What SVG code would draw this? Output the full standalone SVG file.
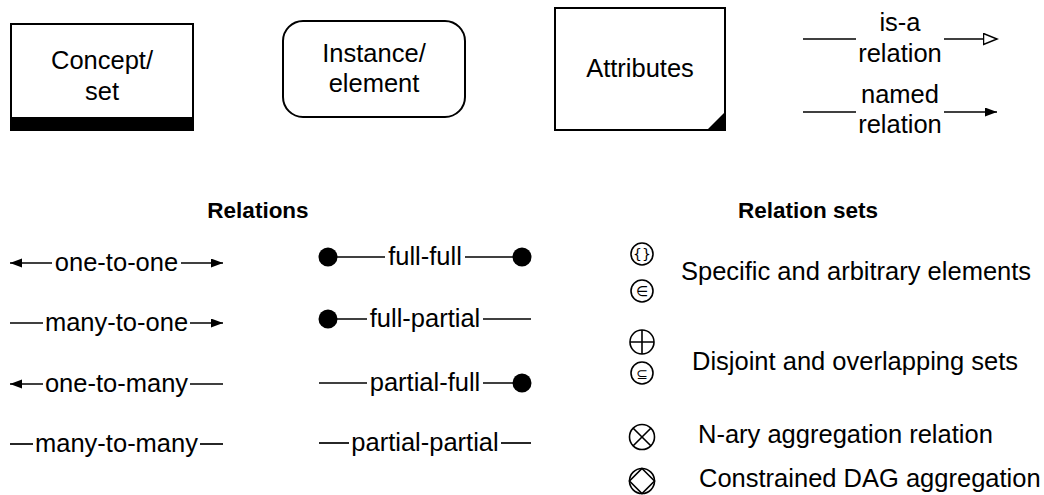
<svg xmlns="http://www.w3.org/2000/svg" width="1044" height="495" viewBox="0 0 1044 495">
  <style>
    text { font-family: "Liberation Sans", Arial, sans-serif; font-size: 25.5px; fill: #000; }
    .c { text-anchor: middle; }
    .h { font-weight: bold; font-size: 22.5px; text-anchor: middle; }
    .sym { font-family: "DejaVu Sans", "Liberation Sans", sans-serif; font-size: 14px; text-anchor: middle; }
    .box { fill: #fff; stroke: #000; stroke-width: 2; }
    .ln { stroke: #000; stroke-width: 1.7; fill: none; }
    .ring { fill: #fff; stroke: #000; stroke-width: 1.6; }
    .ringln { stroke: #000; stroke-width: 1.6; fill: none; }
    .arr { marker-end: url(#arrow); }
  </style>
  <defs>
    <marker id="arrow" markerUnits="userSpaceOnUse" markerWidth="13" markerHeight="10" refX="12" refY="4.5" orient="auto">
      <path d="M0,0 L12,4.5 L0,9 z" fill="#000"/>
    </marker>
    <marker id="isa" markerUnits="userSpaceOnUse" markerWidth="16" markerHeight="14" refX="14.5" refY="6.5" orient="auto">
      <path d="M1,1 L14.5,6.5 L1,12 z" fill="#fff" stroke="#000" stroke-width="1.5"/>
    </marker>
  </defs>

  <!-- legend node shapes -->
  <g id="concept-set">
    <rect class="box" x="11" y="24" width="182" height="106"/>
    <rect x="11" y="117" width="182" height="13" fill="#000"/>
    <text class="c" x="102" y="69">Concept/</text>
    <text class="c" x="102" y="100">set</text>
  </g>

  <g id="instance-element">
    <rect class="box" x="283" y="21" width="182" height="96" rx="20" ry="20"/>
    <text class="c" x="374" y="62">Instance/</text>
    <text class="c" x="374" y="92">element</text>
  </g>

  <g id="attributes">
    <rect class="box" x="555" y="8" width="170" height="122"/>
    <polygon points="707,130 725,112 725,130" fill="#000"/>
    <text class="c" x="640" y="77">Attributes</text>
  </g>

  <g id="isa-relation">
    <text class="c" x="900" y="31">is-a</text>
    <text class="c" x="900" y="62">relation</text>
  </g>

  <g id="named-relation">
    <text class="c" x="900" y="103">named</text>
    <text class="c" x="900" y="133">relation</text>
  </g>

  <!-- section headings -->
  <g id="relations-heading">
    <text class="h" x="258" y="218">Relations</text>
  </g>
  <g id="relation-sets-heading">
    <text class="h" x="808" y="218">Relation sets</text>
  </g>

  <!-- cardinality labels -->
  <g id="one-to-one"><text class="c" x="116.5" y="271">one-to-one</text></g>
  <g id="many-to-one"><text class="c" x="116.5" y="331">many-to-one</text></g>
  <g id="one-to-many"><text class="c" x="116.5" y="392">one-to-many</text></g>
  <g id="many-to-many"><text class="c" x="116.5" y="452">many-to-many</text></g>

  <!-- participation labels -->
  <g id="full-full"><text class="c" x="425" y="265">full-full</text></g>
  <g id="full-partial"><text class="c" x="425" y="327">full-partial</text></g>
  <g id="partial-full"><text class="c" x="425" y="391">partial-full</text></g>
  <g id="partial-partial"><text class="c" x="425" y="451">partial-partial</text></g>

  <!-- relation set symbols -->
  <g id="specific-elements">
    <circle class="ring" cx="642" cy="254" r="11"/>
    <text class="sym" x="642" y="259">{}</text>
  </g>
  <g id="arbitrary-elements">
    <circle class="ring" cx="642" cy="291" r="11"/>
    <text class="sym" x="642" y="296">∈</text>
  </g>
  <g id="specific-arbitrary-label">
    <text x="681" y="280">Specific and arbitrary elements</text>
  </g>

  <g id="disjoint-sets">
    <circle class="ring" cx="642" cy="342" r="12"/>
    <path class="ringln" d="M630,342 H654 M642,330 V354"/>
  </g>
  <g id="overlapping-sets">
    <circle class="ring" cx="642" cy="373" r="11"/>
    <text class="sym" x="642" y="378.5">⊆</text>
  </g>
  <g id="disjoint-overlapping-label">
    <text x="692" y="370">Disjoint and overlapping sets</text>
  </g>

  <g id="nary-aggregation">
    <circle class="ring" cx="642" cy="437" r="12.5"/>
    <path class="ringln" d="M633.2,428.2 L650.8,445.8 M650.8,428.2 L633.2,445.8"/>
    <text x="698" y="443">N-ary aggregation relation</text>
  </g>

  <g id="dag-aggregation">
    <circle class="ring" cx="642" cy="481" r="12.5"/>
    <polygon class="ringln" points="642,468.5 654.5,481 642,493.5 629.5,481"/>
    <text x="699" y="487">Constrained DAG aggregation</text>
  </g>

  <!-- connectors -->
  <g id="connectors">
    <!-- is-a / named -->
    <line class="ln" x1="803" y1="39" x2="856" y2="39"/>
    <line class="ln" x1="944" y1="39" x2="997" y2="39" marker-end="url(#isa)"/>
    <line class="ln" x1="803" y1="112" x2="856" y2="112"/>
    <line class="ln arr" x1="944" y1="112" x2="997" y2="112"/>

    <!-- cardinalities -->
    <line class="ln arr" x1="52" y1="263" x2="10" y2="263"/>
    <line class="ln arr" x1="181" y1="263" x2="223" y2="263"/>
    <line class="ln" x1="10" y1="323" x2="43" y2="323"/>
    <line class="ln arr" x1="190" y1="323" x2="223" y2="323"/>
    <line class="ln arr" x1="43" y1="384" x2="10" y2="384"/>
    <line class="ln" x1="190" y1="384" x2="223" y2="384"/>
    <line class="ln" x1="10" y1="444" x2="33" y2="444"/>
    <line class="ln" x1="200" y1="444" x2="223" y2="444"/>

    <!-- participation -->
    <line class="ln" x1="328" y1="257" x2="385" y2="257"/>
    <line class="ln" x1="465" y1="257" x2="522" y2="257"/>
    <circle cx="328" cy="257" r="9.5" fill="#000"/>
    <circle cx="522" cy="257" r="9.5" fill="#000"/>

    <line class="ln" x1="328" y1="319" x2="367" y2="319"/>
    <line class="ln" x1="483" y1="319" x2="531" y2="319"/>
    <circle cx="328" cy="319" r="9.5" fill="#000"/>

    <line class="ln" x1="319" y1="383" x2="367" y2="383"/>
    <line class="ln" x1="483" y1="383" x2="522" y2="383"/>
    <circle cx="522" cy="383" r="9.5" fill="#000"/>

    <line class="ln" x1="319" y1="443" x2="349" y2="443"/>
    <line class="ln" x1="501" y1="443" x2="531" y2="443"/>
  </g>
</svg>
